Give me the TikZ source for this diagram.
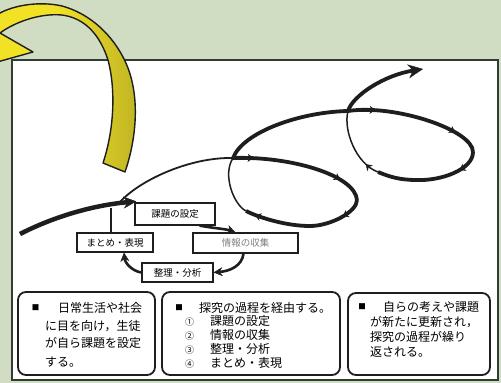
\documentclass[tikz,border=0pt]{standalone}
\usepackage{fontspec}
\setmainfont{Noto Sans CJK JP}
\usetikzlibrary{arrows.meta,decorations.markings}
\definecolor{bgc}{HTML}{D0DDC3}
\definecolor{framec}{HTML}{2F3E34}
\definecolor{ylw}{HTML}{F2E226}
\definecolor{olv}{HTML}{C2B624}
\definecolor{ink}{HTML}{1E1E1E}
\begin{document}
\begin{tikzpicture}[x=1pt,y=-1pt,
  thickline/.style={draw=ink, line width=3.8pt},
  thinline/.style={draw=ink, line width=1.5pt},
  marks/.style={postaction={decorate,decoration={markings,mark=at position #1 with {\arrow{Stealth[length=6pt,width=8pt,line width=0.4pt]}}}}},
  cyclebox/.style={draw=ink, line width=1.2pt, fill=white, inner sep=0pt, font=\fontsize{9.5}{10}\selectfont},
  cycarrow/.style={draw=ink, line width=2.6pt, -{Stealth[length=9pt,width=9pt,line width=0.4pt]}},
  infobox/.style={draw=ink, line width=1.8pt, rounded corners=8pt, fill=white},
  txt/.style={anchor=base west, inner sep=0pt, font=\fontsize{12}{12}\selectfont},
  num/.style={anchor=base west, inner sep=0pt, font=\fontsize{9}{9}\selectfont},
  bullet/.style={anchor=center, inner sep=0pt, font=\fontsize{7.5}{7.5}\selectfont},
]
\useasboundingbox (0,0) rectangle (501,383);
\fill[bgc] (0,0) rectangle (501,383);
\draw[framec, line width=2pt, fill=white] (12,60) rectangle (498,380);

% cycle boxes
\node[cyclebox, minimum width=80pt, minimum height=22pt] (kadai) at (175,214) {課題の設定};
\node[cyclebox, minimum width=105pt, minimum height=20pt, text=gray] (joho) at (245.5,243) {情報の収集};
\node[cyclebox, minimum width=76pt, minimum height=19pt] (matome) at (115,242.5) {まとめ・表現};
\node[cyclebox, minimum width=71pt, minimum height=19pt] (seiri) at (177.5,272.5) {整理・分析};

% spiral coordinates
\coordinate (start) at (20,234);
\coordinate (S0) at (120,202);
\coordinate (A) at (233,158);
\coordinate (R1) at (357,200);
\coordinate (B1) at (310,226);
\coordinate (M1) at (246,211);
\coordinate (C) at (348,111);
\coordinate (R2) at (473,152);
\coordinate (B2) at (417,180);
\coordinate (M2) at (378,172);
\coordinate (T) at (423,69);
\coordinate (J) at (111,208);

% main arrow into the cycle
\draw[ink, line width=4.5pt, -{Stealth[length=13pt,width=12pt,line width=0.4pt]}]
  (start) .. controls (55,216) and (95,205) .. ([xshift=2pt,yshift=1pt]kadai.north west);
\draw[ink, line width=1.8pt] ([xshift=-4pt]matome.north) -- (J);

% cycle arrows
\draw[cycarrow] ([xshift=-16pt]kadai.south east) .. controls (212,228) and (226,229) .. ([xshift=-10pt]joho.north);
\draw[cycarrow] ([xshift=-2pt]joho.south) .. controls (242,266) and (230,271) .. (seiri.east);
\draw[cycarrow] (seiri.west) .. controls (132,271) and (125,263) .. ([xshift=9pt]matome.south);

% spiral
\draw[ink, line width=1.8pt] (S0) .. controls (140,180) and (190,157) .. (A);
\draw[thickline, marks=0.15, marks=0.8] (A) .. controls (290,156) and (355,175) .. (R1);
\draw[thickline, marks=0.4] (R1) .. controls (357,212) and (330,226) .. (B1);
\draw[thickline, marks=0.85] (B1) .. controls (285,226) and (258,217) .. (M1);
\draw[thinline] (M1) .. controls (234,205) and (222,175) .. (A);
\draw[thickline] (A) .. controls (243,132) and (300,112) .. (C);
\draw[thickline, marks=0.2, marks=0.8] (C) .. controls (395,104) and (473,130) .. (R2);
\draw[thickline, marks=0.35] (R2) .. controls (473,170) and (440,181) .. (B2);
\draw[thickline] (B2) .. controls (400,180) and (390,177) .. (M2);
\draw[thinline, marks=0.2] (M2) .. controls (356,164) and (343,130) .. (C);
\draw[ink, line width=3.8pt, -{Stealth[length=15pt,width=14pt,line width=0.4pt]}] (C) .. controls (353,95) and (385,75) .. (T);

% info boxes
\node[infobox, minimum width=137pt, minimum height=83pt] (info1) at (86.5,333.5) {};
\node[infobox, minimum width=178pt, minimum height=83pt] (info2) at (251,333.5) {};
\node[infobox, minimum width=142pt, minimum height=82pt] (info3) at (419,334) {};

\node[bullet] (b1) at (35.5,308) {■};
\node[txt] (t1a) at (58,312.5) {日常生活や社会};
\node[txt] (t1b) at (45,330.5) {に目を向け，生徒};
\node[txt] (t1c) at (45,347.5) {が自ら課題を設定};
\node[txt] (t1d) at (45,366.5) {する。};

\node[bullet] (b2) at (179,308) {■};
\node[txt] (t2a) at (199,312.5) {探究の過程を経由する。};
\node[num] (n1) at (185,325.5) {①};
\node[txt] (t2b) at (210,325.5) {課題の設定};
\node[num] (n2) at (185,339.5) {②};
\node[txt] (t2c) at (210,339.5) {情報の収集};
\node[num] (n3) at (185,353.5) {③};
\node[txt] (t2d) at (210,353.5) {整理・分析};
\node[num] (n4) at (185,367.5) {④};
\node[txt] (t2e) at (210,367.5) {まとめ・表現};

\node[bullet] (b3) at (362,307) {■};
\node[txt] (t3a) at (383,311.5) {自らの考えや課題};
\node[txt] (t3b) at (370,326.5) {が新たに更新され，};
\node[txt] (t3c) at (370,341.5) {探究の過程が繰り};
\node[txt] (t3d) at (370,356.5) {返される。};

% yellow curved arrow
\begin{scope}
  \clip (0,0) rectangle (501,383);
  \begin{scope}
    \clip (125,172) .. controls (136,140) and (140,100) .. (128,68) .. controls (118,42) and (95,15) .. (62,6) .. controls (40,1) and (15,5) .. (0,13) .. controls (-8,16) and (-14,19) .. (-20,21.5) -- (-45,7) -- (-28,69) -- (33,52) -- (0,33) .. controls (15,22) and (40,13) .. (62,15) .. controls (85,18) and (100,35) .. (108,60) .. controls (116,90) and (114,130) .. (103,163) -- cycle;
    \fill[ylw] (-60,-10) rectangle (60,200);
    \shade[left color=ylw, right color=olv] (55,-10) rectangle (135,200);
    \fill[olv] (134,-10) rectangle (160,200);
  \end{scope}
  \draw[ink, line width=1.4pt, line join=round] (125,172) .. controls (136,140) and (140,100) .. (128,68) .. controls (118,42) and (95,15) .. (62,6) .. controls (40,1) and (15,5) .. (0,13) .. controls (-8,16) and (-14,19) .. (-20,21.5) -- (-45,7) -- (-28,69) -- (33,52) -- (0,33) .. controls (15,22) and (40,13) .. (62,15) .. controls (85,18) and (100,35) .. (108,60) .. controls (116,90) and (114,130) .. (103,163) -- cycle;
\end{scope}
\end{tikzpicture}
\end{document}
